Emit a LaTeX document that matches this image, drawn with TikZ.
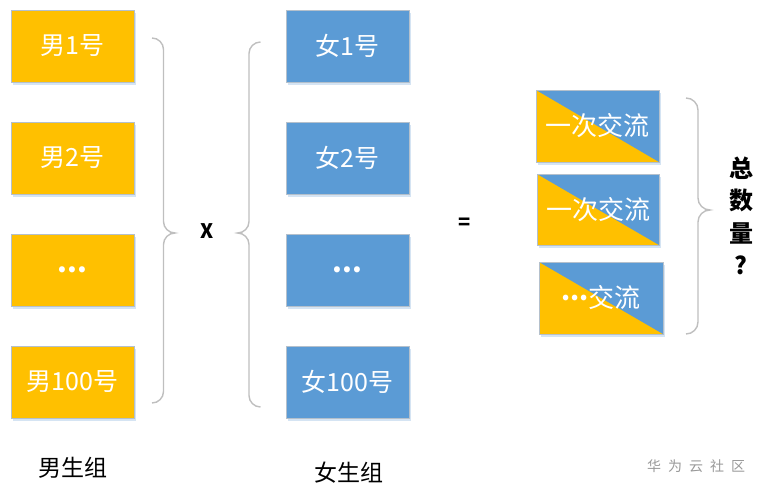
\documentclass[tikz,border=0pt]{standalone}
\usepackage{fontspec}
\setmainfont{Noto Sans CJK SC}
\usetikzlibrary{calc}
\definecolor{cyel}{HTML}{FFC000}
\definecolor{cblu}{HTML}{5B9BD5}
\definecolor{cbord}{HTML}{B4C0CC}
\definecolor{cshad}{HTML}{D5E4F3}
\definecolor{cbrace}{HTML}{BFBFBF}
\tikzset{
  x=1pt,y=1pt,
  pbox/.style={minimum width=123pt,minimum height=72pt,inner sep=0pt,draw=cbord,line width=1pt,text=white,font=\fontsize{25}{28}\selectfont},
  mbox/.style={pbox,fill=cyel},
  fbox/.style={pbox,fill=cblu},
  dbox/.style={pbox,fill=cyel,font=\fontsize{26}{28}\selectfont,path picture={\fill[cblu] (path picture bounding box.north west) -- (path picture bounding box.north east) -- (path picture bounding box.south east) -- cycle;}},
  brc/.style={draw=cbrace,line width=1.4pt},
  dots/.style={font=\fontsize{28}{28}\selectfont\bfseries}
}
\begin{document}
\begin{tikzpicture}
\useasboundingbox (0,0) rectangle (764,-493);
% shadows
\foreach \y in {46,158,270,382}{
  \fill[cshad] (13,-\y-39) rectangle (136,-\y+33);
  \fill[cshad] (288,-\y-39) rectangle (411,-\y+33);
}
\fill[cshad] (538,-165) rectangle (661,-93);
\fill[cshad] (539,-248) rectangle (661,-177);
\fill[cshad] (541,-337) rectangle (665,-265);
% male
\node[mbox] (m1) at (72.5,-46) {男1号};
\node[mbox] (m2) at (72.5,-158) {男2号};
\node[mbox,dots] (m3) at (72.5,-270) {...};
\node[mbox] (m4) at (72.5,-382) {男100号};
% female
\node[fbox] (f1) at (347.5,-46) {女1号};
\node[fbox] (f2) at (347.5,-158) {女2号};
\node[fbox,dots] (f3) at (347.5,-270) {...};
\node[fbox] (f4) at (347.5,-382) {女100号};
% results
\node[dbox] (r1) at (597.5,-126) {一次交流};
\node[dbox,minimum width=122pt,minimum height=71pt] (r2) at (598,-209.5) {一次交流};
\node[dbox,minimum width=124pt] (r3) at (601,-298) {\raisebox{7pt}{\bfseries ...}交流};
% braces
\draw[brc] (152,-38) arc[start angle=90,end angle=0,radius=11.5] -- (163.5,-221.5)
  arc[start angle=180,end angle=270,radius=11.5] arc[start angle=90,end angle=180,radius=11.5]
  -- (163.5,-391.5) arc[start angle=0,end angle=-90,radius=11.5];
\draw[brc] (260.5,-42) arc[start angle=90,end angle=180,radius=11.5] -- (249,-221.5)
  arc[start angle=0,end angle=-90,radius=11.5] arc[start angle=90,end angle=0,radius=11.5]
  -- (249,-395.5) arc[start angle=180,end angle=270,radius=11.5];
\draw[brc] (686,-98) arc[start angle=90,end angle=0,radius=12] -- (698,-198)
  arc[start angle=180,end angle=270,radius=12] arc[start angle=90,end angle=180,radius=12]
  -- (698,-322) arc[start angle=0,end angle=-90,radius=12];
% operators
\node[font=\fontsize{20}{22}\selectfont\bfseries] (times) at (207,-231) {X};
\node[font=\fontsize{20}{22}\selectfont\bfseries] (eq) at (465,-224) {=};
% total
\node[font=\fontsize{24}{32.5}\selectfont\bfseries,align=center] (tot) at (741,-216) {总\\数\\量\\?};
% labels
\node[font=\fontsize{23}{25}\selectfont] (lm) at (73,-468) {男生组};
\node[font=\fontsize{23}{25}\selectfont] (lf) at (348.5,-473) {女生组};
\node[font=\fontsize{14}{16}\selectfont,text=gray!80] (wm) at (696,-466) {华\hspace{7pt}为\hspace{7pt}云\hspace{7pt}社\hspace{7pt}区};
\end{tikzpicture}
\end{document}
